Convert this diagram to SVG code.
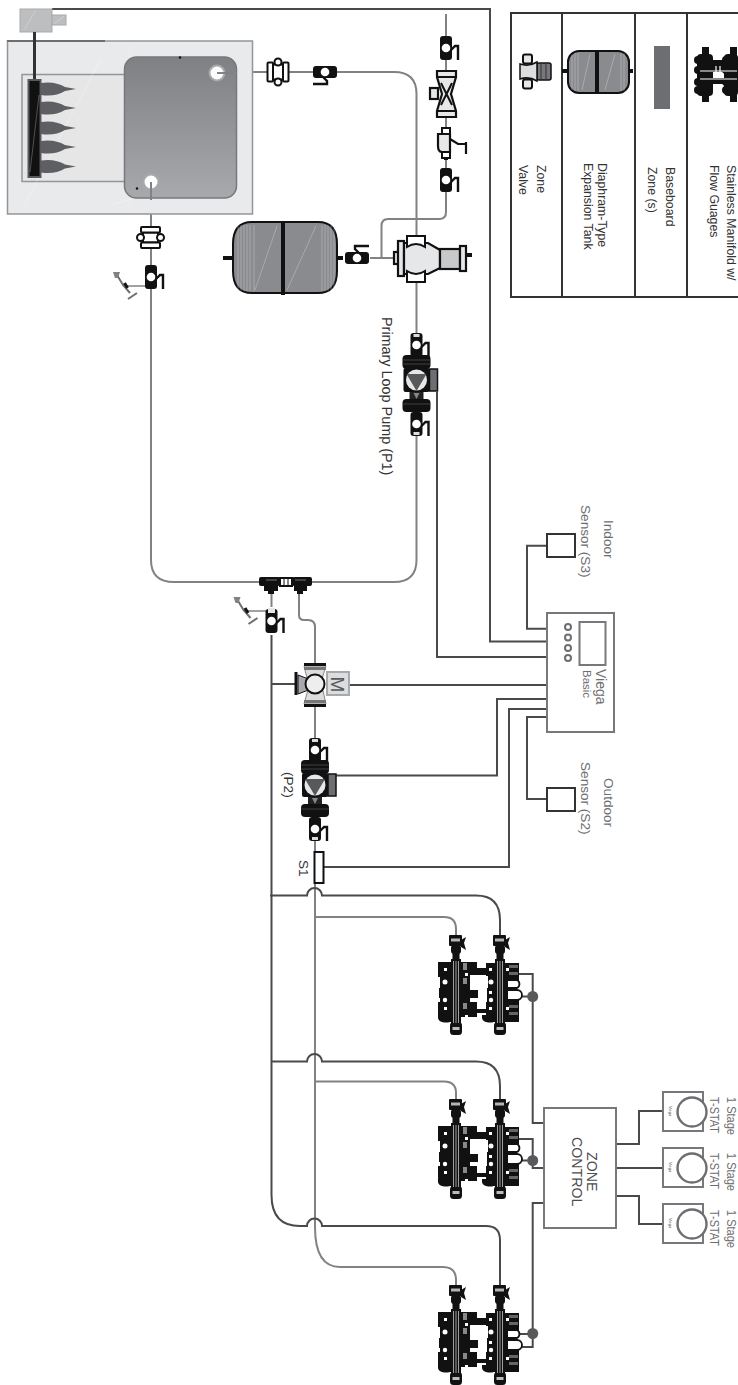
<svg xmlns="http://www.w3.org/2000/svg" width="738" height="1385" viewBox="0 0 738 1385">
<style>
text{font-family:"Liberation Sans",Arial,sans-serif}
.t{font-size:14px;fill:#4d4d4f}
.s{font-size:13.6px;fill:#6d6e71}
.st{font-size:13.6px;fill:#6d6e71}
.l{font-size:12.3px;fill:#333}
.p{fill:none;stroke:#808285;stroke-width:2}
.w{fill:none;stroke:#4a4a4c;stroke-width:2}
.k{fill:#111}
.o{fill:#fff;stroke:#111;stroke-width:2}
.lg{fill:#e6e7e8;stroke:#111;stroke-width:2.200}
.hat{fill:none;stroke:#fff;stroke-width:.6;opacity:.45}
.bx{fill:#fff;stroke:#77787b;stroke-width:2}
.cb{fill:#fff;stroke:#77787b;stroke-width:2}
</style>
<defs>
<linearGradient id="tg" x1="0" y1="0" x2="0" y2="1"><stop offset="0" stop-color="#7f8083"/><stop offset="1" stop-color="#a8a9ac"/></linearGradient>
<path id="fl" d="M41-6Q55-8 65-2L76 0 65 2Q55 8 41 6Z" fill="#5e5f62"/>
<g id="bv">
<rect x="-6" y="-12" width="12" height="24" rx="3" class="k"/>
<circle r="4.300" fill="#fff"/>
<path d="M5 2 9-2h3V12" fill="none" stroke="#111" stroke-width="2.400"/>
</g>
<g id="un">
<rect x="-7.500" y="-5" width="15" height="10" fill="#fff" stroke="#111" stroke-width="2"/>
<rect x="-9.500" y="-10.500" width="19" height="5.500" rx="1" class="o"/>
<rect x="-9.500" y="5" width="19" height="5.500" rx="1" class="o"/>
<circle cx="-10" r="3.500" class="o"/><circle cx="10" r="3.500" class="o"/>
</g>
<g id="pm">
<rect x="-14" y="-25" width="28" height="14" rx="4" class="k"/>
<path d="M-14-20H14M-14-16H14" stroke="#555" stroke-width=".7"/>
<use href="#bv" y="-35"/>
<rect x="-3" y="-46" width="6" height="3" fill="#ddd"/>
<rect x="13" y="-11" width="8" height="22" fill="#6d6e71" stroke="#111" stroke-width="1.500"/>
<rect x="-13" y="-12" width="26" height="24" rx="2" class="k"/>
<circle r="10.500" fill="#e6e7e8"/>
<path d="M-10-6H10L0 11Z" fill="#58595b"/>
<path d="M-7 12H7V21H-7Z" fill="#222"/>
<path d="M-3 13 3 13 0 19Z" fill="#888"/>
<rect x="-14" y="19" width="28" height="13" rx="4" class="k"/>
<path d="M-14 24H14" stroke="#555" stroke-width=".7"/>
<use href="#bv" y="44"/>
<rect x="-3" y="52" width="6" height="3" fill="#ddd"/>
</g>
<g id="mf">
<g id="mc">
<rect x="-7" y="-2" width="13" height="11" rx="1" class="k"/>
<rect x="-5" y="1.500" width="9" height="3" fill="#b5b5b5"/>
<path d="M5 3 10 0 8 6 10 13 5 10Z" class="k"/>
<rect x="-5" y="8" width="10" height="9" rx="3" class="k"/>
<rect x="-3.500" y="16" width="7" height="8" class="k"/>
<rect x="-5" y="22" width="10" height="68" class="k"/>
<rect x="-6" y="85" width="12" height="13" rx="3.500" class="k"/>
<rect x="-3.500" y="90" width="7" height="3" fill="#bbb"/>
</g>
<path d="M-18 25H21V38H14V53H22V61H14V65H21V80H5V85H-6C-10 86-17 86-18 81V65H-16V61H-17V51H-16V40H-18Z" class="k"/>
<rect x="21" y="31" width="10" height="7" class="k"/>
<rect x="21" y="72" width="10" height="4" class="k"/>
<use href="#mc" x="44"/>
<path d="M30 26H63V43H54V51H56V61H54V63H63V85H38C34 86 27 86 26 81V78H30V65H31V51H32V39H30Z" class="k"/>
<path d="M-2.500 24V86M0 24V86M2.500 24V86M41.500 24V86M44 24V86M46.500 24V86" stroke="#ddd" stroke-width=".7"/>
<g fill="#fff"><circle cx="-11" cy="45" r="2.500"/><circle cx="-11" cy="63" r="2.200"/><circle cx="35" cy="45" r="2.500"/><circle cx="35" cy="63" r="2.200"/>
<path d="M-12 31h3v3h-3zM33 31h3v3h-3zM33 54h3v3h-3zM33 70h3v3h-3zM-12 70h3v3h-3zM9 36h3v3h-3zM9 78h3v3h-3zM14 45H21v6H14zM50 31h3v3h-3zM50 70h3v3h-3z"/></g>
<path d="M7 26h4v7h-4zM7 41h4v6h-4zM7 66h4v6h-4z" fill="#888"/>
<path d="M52 43h9a4.500 4.500 0 0 1 0 8h-9M52 53h9a5 5 0 0 1 0 10h-9" fill="#fff" stroke="#111" stroke-width="1.800"/>
<path d="M53 28h9v3h-9zM53 35h9v3h-9zM53 68h9v3h-9zM53 75h9v3h-9z" fill="#666"/>
</g>
<g id="dr">
<path d="M0 0H-24" stroke="#808285" stroke-width="1.500"/>
<path d="M-34-11-28-1-21 7" fill="none" stroke="#6d6e71" stroke-width="2"/>
<path d="M-38-14H-31L-33-8H-36Z" fill="#808285"/>
<path d="M-26.500-3-23.500 2" stroke="#111" stroke-width="3"/>
<path d="M-23 13-14 7" stroke="#6d6e71" stroke-width="2"/>
</g>
<g id="ts">
<rect x="663" y="0" width="40" height="39" class="bx"/>
<circle cx="692" cy="20" r="14.500" fill="#fff" stroke="#6d6e71" stroke-width="2.400"/>
<text transform="translate(669 14) rotate(90)" font-size="4" fill="#555">Viega</text>
</g>
</defs>

<g id="connectors">
<path class="w" d="M52 9H490V641.500H547"/>
<path class="p" d="M217 72H394Q416.500 72 416.500 94V235M416.500 283V335M416.500 434V560Q416.500 582 394 582H312M259 582H174Q151 582 151 560V182"/>
<path class="p" d="M446 14V192V212Q446 219 439 219H388Q381.500 219 381.500 226V258M370 258H398"/>
<path class="w" d="M437 392V657H547"/>
<path class="p" d="M271.500 587V607M299 587V615Q299 620 304 620H308Q315 620 315 627V665M315 705V740M315 838V853M315 883V1227Q315 1267 340 1267H443Q456 1267 456 1280V1287M315 917H444Q456 917 456 929V937M315 1081.500H444Q456 1081.500 456 1093V1101"/>
<path class="w" d="M271.500 635V1195Q271.500 1226 300 1226H307A7.500 7.500 0 0 1 322 1226H486Q500 1226 500 1240V1287"/>
<path class="w" d="M270 895.500H307A7.500 7.500 0 0 1 322 895.500H476Q500 895.500 500 920V937"/>
<path class="w" d="M271.500 1061.500H307A7.500 7.500 0 0 1 322 1061.500H476Q500 1061.500 500 1086V1101"/>
<path class="w" d="M271.500 684H296M349 685H547"/>
<path class="w" d="M547 628.700H527V545.700H547M547 717H527V799H547"/>
<path class="w" d="M547 699H497V775.500H333M547 709H509V867H323"/>
<path class="w" d="M517 974H532.700V1123H544M517 1139H532.700V1168H544M544 1203H532.700V1347H517"/>
<path class="w" d="M520 996.500H532.700M520 1160.500H532.700M520 1334H532.700"/>
<path class="w" d="M616 1144H639V1111H663M616 1168H663M616 1196H639V1224H663"/>
</g>

<g id="boiler">
<rect x="7.500" y="41" width="245" height="173" fill="#e9eaeb" stroke="#939598" stroke-width="1.500"/>
<path d="M7 41H105" stroke="#6d6e71" stroke-width="2"/>
<rect x="22" y="74.500" width="105" height="107" fill="#e6e6e7" stroke="#939598" stroke-width="1.500"/>
<path class="hat" d="M22 210 100 60M110 205 240 170M130 45V210"/>
<rect x="20" y="9" width="32" height="23" fill="#bcbec0" stroke="#a7a9ac"/>
<rect x="52" y="15" width="14" height="10" fill="#bcbec0" stroke="#a7a9ac"/>
<path class="hat" d="M24 30 36 10M54 24 64 16"/>
<path d="M34.500 32V80" stroke="#333" stroke-width="3"/>
<rect x="27.500" y="79" width="14" height="99" fill="#58595b"/>
<rect x="29.500" y="81" width="10" height="95" fill="#111"/>
<path class="hat" d="M30 172 39 95"/>
<use href="#fl" y="89"/><use href="#fl" y="108"/><use href="#fl" y="128"/><use href="#fl" y="147"/><use href="#fl" y="166.500"/>
<rect x="124.500" y="57" width="112" height="141" rx="12" fill="url(#tg)" stroke="#77787b" stroke-width="1.500"/>
<circle cx="217" cy="73" r="7.500" fill="#fff" stroke="#a7a9ac" stroke-width="2"/>
<circle cx="151" cy="182" r="7.500" fill="#fff" stroke="#a7a9ac" stroke-width="2"/>
<circle cx="180" cy="57.500" r="1.200" fill="#111"/><circle cx="137" cy="188.500" r="1.200" fill="#111"/>
<path class="p" d="M217 73H237M151 182V200"/>
</g>

<g id="fittings-return">
<use href="#un" x="150.500" y="237.500"/>
<use href="#dr" x="151" y="286"/>
<use href="#bv" x="151" y="277"/>
</g>
<g id="fittings-supply">
<use href="#un" transform="translate(278 72) rotate(90)"/>
<use href="#bv" transform="translate(325 72) rotate(90)"/>
</g>

<g id="expansion-tank">
<path d="M223 258H233M337 258H343" stroke="#111" stroke-width="4"/>
<path d="M252 222H318Q337 222 337 244V271Q337 293 318 293H252Q233 293 233 271V244Q233 222 252 222Z" fill="#8a8b8e" stroke="#111" stroke-width="2"/>
<path class="hat" d="M255 290 277 226M287 290 316 226M238 226V290M241 225V291M244 225V291M247 225V291M250 225V291M254 225V291M322 225V291M325 225V291M328 225V291M331 226V290M334 228V288"/>
<path d="M283 221V295" stroke="#111" stroke-width="4"/>
<use href="#bv" transform="translate(357 258) rotate(-90)"/>
</g>

<g id="air-separator">
<rect x="394" y="252" width="5" height="12" class="lg"/>
<rect x="398" y="241" width="6" height="35" class="lg"/>
<path d="M404 243H428L440 250V268L428 274H404Z" fill="#e6e7e8" stroke="#111" stroke-width="2.200"/>
<rect x="440" y="249" width="20" height="20" fill="#c8c9cb" stroke="#111" stroke-width="2.200"/>
<rect x="460" y="246" width="6" height="25" class="lg"/>
<path d="M466 255H472" stroke="#111" stroke-width="4"/>
<path d="M407 236H425V247Q416 241 407 247ZM407 282H425V271Q416 277 407 271Z" class="o"/>
</g>

<g id="riser-fittings">
<use href="#bv" x="446" y="48"/>
<path d="M437 71H456V77L451 94 456 111V117H437V111L442 94 437 77Z" fill="#e6e7e8" stroke="#111" stroke-width="2.200"/>
<path d="M437 77H456M437 111H456M441 105 452 83M441 83 452 105" stroke="#111" stroke-width="2"/>
<rect x="430" y="88" width="8" height="11" class="lg"/>
<path d="M446 128V132M446 155V160" stroke="#111" stroke-width="4"/>
<path d="M438 134H450V152H442Q438 152 438 146Z" class="lg"/>
<path d="M442 128H450V134H442ZM442 152H450V158H442Z" class="o"/>
<path d="M450 139 458 144H465M466 142V154" fill="none" stroke="#111" stroke-width="2.200"/>
<use href="#bv" x="446" y="180"/>
</g>

<g id="pump-p1"><use href="#pm" x="416.500" y="380"/></g>
<text transform="translate(381.500 317) rotate(90)" style="font-size:14.400px;fill:#333">Primary Loop Pump (P1)</text>

<g id="tees">
<rect x="259" y="577" width="21" height="9" rx="2" class="k"/>
<rect x="292" y="577" width="20" height="9" rx="2" class="k"/>
<rect x="280" y="578" width="12" height="8" fill="#fff" stroke="#111" stroke-width="2"/>
<path d="M284 577V587M288 577V587" stroke="#111"/>
<path d="M264 586H278V591H274V594H268V591H264ZM294 586H307V591H303V594H297V591H294Z" class="k"/>
<path d="M266 580H277M295 580H306" stroke="#777" stroke-width="1"/>
</g>
<g id="drain-valve">
<use href="#dr" x="271.500" y="611"/>
<use href="#bv" x="271.500" y="621"/>
<rect x="268" y="608" width="7" height="5" fill="#e6e7e8"/>
</g>

<g id="mixing-valve">
<path d="M304 666H326L321 682 326 704H304L309 686Z" fill="#dcddde" stroke="#888"/>
<path d="M298 675 311 680V689L298 694Z" fill="#a7a9ac" stroke="#111"/>
<path d="M304 664.500H326M304 705.500H326" stroke="#111" stroke-width="3"/>
<path d="M304 668.500H326M304 701.500H326" stroke="#777" stroke-width="3"/>
<path d="M296 672V695" stroke="#111" stroke-width="3"/>
<circle cx="315" cy="684" r="9.500" fill="#eee" stroke="#111" stroke-width="2"/>
<rect x="327" y="672" width="22" height="23" fill="#dcddde" stroke="#a7a9ac" stroke-width="2"/>
<text transform="translate(331 676.500) rotate(90)" style="font-size:19px;fill:#58595b">M</text>
</g>

<g id="pump-p2"><use href="#pm" x="315" y="785"/></g>
<text class="s" transform="translate(283.500 772) rotate(90)" style="fill:#333">(P2)</text>

<g id="sensor-s1">
<rect x="314.500" y="852" width="9" height="31" fill="#fff" stroke="#111" stroke-width="2"/>
<text class="s" transform="translate(298.500 860) rotate(90)" style="fill:#333">S1</text>
</g>

<g id="controller">
<rect x="547" y="613" width="67" height="119" class="cb"/>
<rect x="579.500" y="622" width="26" height="43" class="cb"/>
<g fill="#fff" stroke="#6d6e71" stroke-width="2"><circle cx="568" cy="627" r="3"/><circle cx="568" cy="637.500" r="3"/><circle cx="568" cy="648" r="3"/><circle cx="568" cy="658" r="3"/></g>
<text class="s" transform="translate(596 669) rotate(90)" style="font-size:14px">Viega</text>
<text class="s" transform="translate(582.500 670) rotate(90)" style="font-size:11.500px">Basic</text>
</g>

<g id="sensor-s3">
<rect x="547" y="534" width="28" height="23" fill="#fff" stroke="#333" stroke-width="2"/>
<text class="s" transform="translate(604 520) rotate(90)">Indoor</text>
<text class="s" transform="translate(580.500 505) rotate(90)">Sensor (S3)</text>
</g>
<g id="sensor-s2">
<rect x="547" y="788" width="28" height="23" fill="#fff" stroke="#333" stroke-width="2"/>
<text class="s" transform="translate(604 778) rotate(90)">Outdoor</text>
<text class="s" transform="translate(580.500 762) rotate(90)">Sensor (S2)</text>
</g>

<g id="manifold-1"><use href="#mf" x="456" y="937"/><circle cx="532.700" cy="996.500" r="5.500" fill="#58595b"/></g>
<g id="manifold-2"><use href="#mf" x="456" y="1101"/><circle cx="532.700" cy="1160.500" r="5.500" fill="#58595b"/></g>
<g id="manifold-3"><use href="#mf" x="456" y="1287"/><circle cx="532.700" cy="1333.500" r="5.500" fill="#58595b"/></g>

<g id="zone-control">
<rect x="544" y="1108" width="72" height="120" class="cb"/>
<text class="t" transform="translate(587 1152) rotate(90)" style="font-size:14.200px">ZONE</text>
<text class="t" transform="translate(572 1137) rotate(90)" style="font-size:14.200px">CONTROL</text>
</g>

<g id="tstat-1"><use href="#ts" y="1092"/>
<text class="st" transform="translate(726.500 1097) rotate(90)" textLength="38" lengthAdjust="spacingAndGlyphs">1 Stage</text>
<text class="st" transform="translate(710 1097) rotate(90)" textLength="36" lengthAdjust="spacingAndGlyphs">T-STAT</text></g>
<g id="tstat-2"><use href="#ts" y="1148"/>
<text class="st" transform="translate(726.500 1153) rotate(90)" textLength="38" lengthAdjust="spacingAndGlyphs">1 Stage</text>
<text class="st" transform="translate(710 1153) rotate(90)" textLength="36" lengthAdjust="spacingAndGlyphs">T-STAT</text></g>
<g id="tstat-3"><use href="#ts" y="1204"/>
<text class="st" transform="translate(726.500 1210) rotate(90)" textLength="38" lengthAdjust="spacingAndGlyphs">1 Stage</text>
<text class="st" transform="translate(710 1210) rotate(90)" textLength="36" lengthAdjust="spacingAndGlyphs">T-STAT</text></g>

<g id="legend">
<path d="M738 13H511V297H738M562 13V297M635 13V297M687 13V297" fill="none" stroke="#333" stroke-width="2"/>
<g id="lg-zone-valve">
<rect x="537" y="63" width="14" height="17" rx="2" fill="#77787b" stroke="#111" stroke-width="1.500"/>
<path d="M541 63V80M546 63V80" stroke="#333"/>
<path d="M520 64Q529 67 537 62V81Q529 76 520 79Z" fill="#dcddde" stroke="#111" stroke-width="1.500"/>
<rect x="523" y="54.500" width="9" height="9" rx="2" fill="#e6e7e8" stroke="#111" stroke-width="2"/>
<rect x="523" y="79.500" width="9" height="9" rx="2" fill="#e6e7e8" stroke="#111" stroke-width="2"/>
<text class="l" transform="translate(537 165) rotate(90)">Zone</text>
<text class="l" transform="translate(519 165) rotate(90)">Valve</text>
</g>
<g id="lg-tank">
<path d="M562 71H568M629 71H633" stroke="#111" stroke-width="4"/>
<rect x="568" y="51" width="61" height="42" rx="11" fill="#8a8b8e" stroke="#111" stroke-width="2"/>
<path class="hat" d="M582 90 590 54M605 90 615 54M572 55V90M575 53V91M578 53V91M621 53V91M624 53V91"/>
<path d="M597 50V94" stroke="#111" stroke-width="4"/>
<text class="l" transform="translate(598 163) rotate(90)">Diaphram-Type</text>
<text class="l" transform="translate(584 163) rotate(90)">Expansion Tank</text>
</g>
<g id="lg-baseboard">
<rect x="654" y="46" width="16" height="63" fill="#6d6e71"/>
<text class="l" transform="translate(666 167) rotate(90)">Baseboard</text>
<text class="l" transform="translate(648 167) rotate(90)">Zone (s)</text>
</g>
<g id="lg-manifold">
<rect x="697" y="54" width="16" height="42" rx="4" class="k"/>
<rect x="724" y="54" width="14" height="42" rx="4" class="k"/>
<g class="k"><circle cx="698" cy="60" r="4"/><circle cx="698" cy="70" r="4"/><circle cx="698" cy="82" r="4"/><circle cx="698" cy="90" r="4"/><circle cx="726" cy="60" r="4"/><circle cx="726" cy="70" r="4"/><circle cx="726" cy="82" r="4"/><circle cx="726" cy="90" r="4"/></g>
<path d="M702 47h7v8h-7zM702 93h7v9h-7zM730 47h7v8h-7zM730 93h7v9h-7z" class="k"/>
<path d="M713 60H724V72H713ZM713 78H724V84H713Z" class="k"/>
<path d="M700 71H737M700 79H737M716 66V76M720 66V76" stroke="#fff" stroke-width="1.200"/>
<text class="l" transform="translate(727 165) rotate(90)">Stainless Manifold w/</text>
<text class="l" transform="translate(710 165) rotate(90)">Flow Guages</text>
</g>
</g>
</svg>
